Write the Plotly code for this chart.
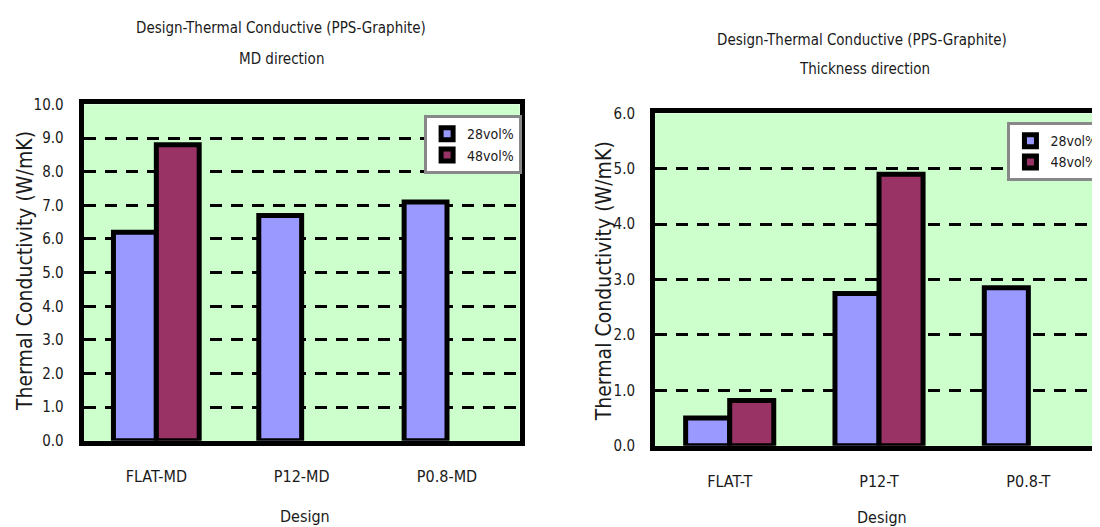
import plotly.graph_objects as go

# ---- data ----
md_categories = ["FLAT-MD", "P12-MD", "P0.8-MD"]
md_28vol = [6.2, 6.7, 7.1]
md_48vol = [8.8, None, None]

t_categories = ["FLAT-T", "P12-T", "P0.8-T"]
t_28vol = [0.5, 2.75, 2.85]
t_48vol = [0.82, 4.9, None]

series_names = ["28vol%", "48vol%"]
md_yticks = [0, 1, 2, 3, 4, 5, 6, 7, 8, 9, 10]
t_yticks = [0, 1, 2, 3, 4, 5, 6]

C_BLUE = "#9999FF"
C_WINE = "#993366"
C_BG = "#CCFFCC"
FONT = "Liberation Sans Narrow, DejaVu Sans Condensed, Liberation Sans, sans-serif"
TXT = "#1a1a1a"

fig = go.Figure()

fig.add_trace(go.Bar(x=md_categories, y=md_28vol, name=series_names[0],
                     marker=dict(color=C_BLUE, line=dict(color="black", width=5)),
                     xaxis="x", yaxis="y", legend="legend"))
fig.add_trace(go.Bar(x=md_categories, y=md_48vol, name=series_names[1],
                     marker=dict(color=C_WINE, line=dict(color="black", width=5)),
                     xaxis="x", yaxis="y", legend="legend"))
fig.add_trace(go.Bar(x=t_categories, y=t_28vol, name=series_names[0],
                     marker=dict(color=C_BLUE, line=dict(color="black", width=5)),
                     xaxis="x2", yaxis="y2", legend="legend2"))
fig.add_trace(go.Bar(x=t_categories, y=t_48vol, name=series_names[1],
                     marker=dict(color=C_WINE, line=dict(color="black", width=5)),
                     xaxis="x2", yaxis="y2", legend="legend2"))

W, H = 1100, 527
SY = 0.973   # observed vertical mapping of the page
OY = 14
OX = 4


def px_x(t):
    return (t - OX) / W


def px_y(t):
    return (H - (t - OY) / SY) / H


def xd(a, b):
    return [max(0.0, px_x(a)), min(1.0, px_x(b))]


def yd(top, bottom):
    return [px_y(bottom), px_y(top)]


axis_common = dict(showline=True, linecolor="black", linewidth=5, mirror=True,
                   ticks="", zeroline=False)
xcommon = dict(axis_common, showgrid=False,
               tickfont=dict(family=FONT, size=16, color=TXT),
               ticklabelstandoff=17)
ycommon = dict(axis_common, showgrid=True, gridcolor="black", gridwidth=3,
               griddash="12px,9px", tickformat=".1f",
               tickfont=dict(family=FONT, size=15, color=TXT),
               ticklabelstandoff=12)

legend_common = dict(bgcolor="white", bordercolor="#888888", borderwidth=3,
                     font=dict(family=FONT, size=14, color=TXT),
                     xanchor="left", yanchor="top", tracegroupgap=0,
                     itemwidth=30)

fig.update_layout(
    width=W, height=H,
    margin=dict(l=0, r=0, t=0, b=0),
    paper_bgcolor="white",
    plot_bgcolor=C_BG,
    barmode="group",
    bargap=0.41,
    bargroupgap=0,
    font=dict(family=FONT, color=TXT),
    xaxis=dict(xcommon, domain=xd(80, 518), anchor="y"),
    yaxis=dict(ycommon, domain=yd(102, 441), range=[0, 10], tickvals=md_yticks, anchor="x"),
    xaxis2=dict(xcommon, domain=xd(654, 1110), anchor="y2"),
    yaxis2=dict(ycommon, domain=yd(111, 446), range=[0, 6], tickvals=t_yticks, anchor="x2"),
    legend=dict(legend_common, x=px_x(422), y=px_y(113)),
    legend2=dict(legend_common, x=px_x(1008), y=px_y(120)),
    showlegend=True,
)

annotations = [
    dict(text="Design-Thermal Conductive (PPS-Graphite)", x=278, y=25, size=15),
    dict(text="MD direction", x=279, y=56, size=15),
    dict(text="Design-Thermal Conductive (PPS-Graphite)", x=862, y=37, size=15),
    dict(text="Thickness direction", x=864, y=66, size=15),
    dict(text="Design", x=302, y=517, size=16),
    dict(text="Design", x=882, y=518, size=16),
]
for a in annotations:
    fig.add_annotation(text=a["text"], x=px_x(a["x"]), y=px_y(a["y"]),
                       xref="paper", yref="paper", showarrow=False,
                       xanchor="center", yanchor="middle",
                       font=dict(family=FONT, size=a["size"], color=TXT))

for xpix, ypix in [(21, 270), (603, 280)]:
    fig.add_annotation(text="Thermal Conductivity (W/mK)", x=px_x(xpix), y=px_y(ypix),
                       xref="paper", yref="paper", showarrow=False, textangle=-90,
                       xanchor="center", yanchor="middle",
                       font=dict(family=FONT, size=21, color=TXT))

fig.write_html("out.html")
